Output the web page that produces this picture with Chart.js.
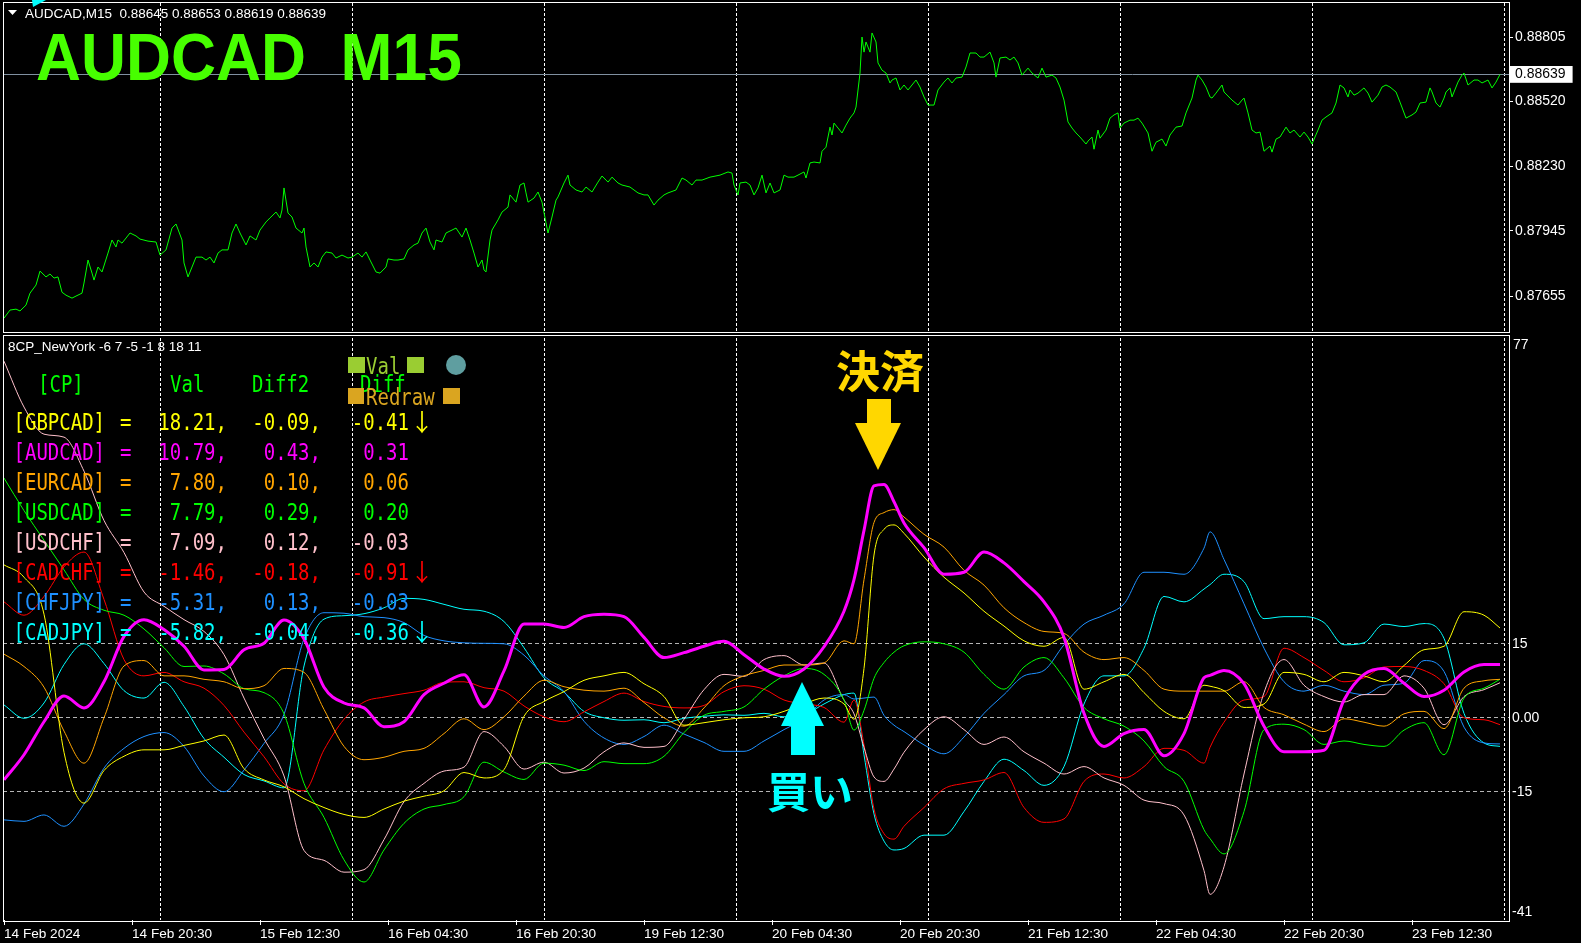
<!DOCTYPE html>
<html><head><meta charset="utf-8">
<script src="https://cdn.jsdelivr.net/npm/chart.js@4.4.1/dist/chart.umd.min.js"></script>
<style>
html,body{margin:0;padding:0;background:#000;width:1581px;height:943px;overflow:hidden;}
#wrap{position:relative;width:1581px;height:943px;background:#000;}
canvas{position:absolute;left:0;}
.t{position:absolute;white-space:pre;line-height:16px;}
.sm{font-family:'Liberation Sans',Arial,sans-serif;font-size:13.5px;color:#fff;}
.mono{position:absolute;white-space:pre;font-family:'DejaVu Sans Mono',monospace;font-size:19px;height:30px;line-height:30px;transform:scaleY(1.22);transform-origin:50% 50%;}
.arr{position:absolute;white-space:pre;font-family:'Noto Sans CJK JP',sans-serif;font-size:24px;height:30px;line-height:30px;width:24px;text-align:center;}
.box{position:absolute;border:1px solid #fff;box-sizing:border-box;pointer-events:none;}
</style></head><body>
<div id="wrap">
<canvas id="topc" width="1581" height="333" style="top:0"></canvas>
<canvas id="botc" width="1581" height="610" style="top:333px"></canvas>
<div class="box" style="left:3px;top:2px;width:1507px;height:331px"></div>
<div class="box" style="left:3px;top:335px;width:1507px;height:587px"></div>
<div id="overlay"></div>
</div>
<script>
// ---------- price panel data (bar index on M15, price) ----------
const priceBars = [0,3,6,8,11,13,16,18,21,23,
25,27,29,31,34,36,39,40,42,44,
45,47,49,52,54,56,57,59,63,66,
68,72,76,78,81,84,86,89,90,92,
94,96,99,101,103,105,107,109,112,114,
116,118,121,123,126,128,131,133,136,138,
139,140,142,144,146,149,150,151,153,155,
157,159,161,164,166,169,172,174,177,179,
181,183,186,188,191,192,195,197,200,202,
205,207,209,211,213,215,216,219,221,224,
226,229,231,233,235,237,239,240,241,243,
244,247,249,252,253,256,258,260,261,262,
265,267,269,271,272,274,276,277,280,282,
283,286,289,291,294,297,299,302,304,307,
309,313,317,320,322,325,327,330,332,336,
339,341,344,346,349,353,358,362,364,365,
367,368,371,373,375,377,379,381,383,385,
388,390,392,395,397,400,401,403,405,408,
409,411,413,414,415,417,419,421,423,425,
426,428,429,430,431,433,434,436,437,439,
441,443,444,446,448,450,452,454,456,458,
460,462,465,467,470,472,474,476,479,481,
483,486,488,490,493,495,496,498,501,503,
505,507,509,512,514,517,519,521,524,526,
528,530,532,534,536,538,541,542,544,545,
547,548,551,553,555,557,558,560,563,565,
567,569,572,574,576,579,581,583,586,589,
591,594,596,597,599,601,603,604,606,609,
610,613,614,617,619,620,622,624,626,628,
630,633,634,636,638,641,643,645,648,650,
652,654,657,659,661,664,666,668,670,672,
673,675,677,680,682,684,687,689,691,693,
696,698,701,704,706,708,711,713,714,716,
718,720,721,723,724,727,729,730,732,735,
737,739,742,744,746,748];
const priceVals = [0.87557,0.87593,0.87597,0.87589,0.87615,0.87668,0.87704,0.87766,0.87740,0.87753,
0.87735,0.87740,0.87672,0.87659,0.87646,0.87655,0.87668,0.87713,0.87815,0.87757,
0.87726,0.87784,0.87762,0.87846,0.87904,0.87873,0.87904,0.87890,0.87935,0.87922,
0.87908,0.87899,0.87895,0.87837,0.87860,0.87957,0.87975,0.87904,0.87802,0.87740,
0.87784,0.87828,0.87828,0.87815,0.87828,0.87802,0.87846,0.87860,0.87860,0.87935,
0.87975,0.87935,0.87882,0.87922,0.87904,0.87948,0.87984,0.88002,0.88028,0.88002,
0.88037,0.88135,0.88024,0.88006,0.87957,0.87935,0.87957,0.87873,0.87784,0.87802,
0.87784,0.87828,0.87851,0.87846,0.87824,0.87837,0.87824,0.87828,0.87846,0.87828,
0.87851,0.87815,0.87762,0.87757,0.87784,0.87820,0.87815,0.87815,0.87820,0.87860,
0.87882,0.87890,0.87935,0.87957,0.87895,0.87860,0.87904,0.87895,0.87935,0.87948,
0.87957,0.87917,0.87957,0.87904,0.87846,0.87784,0.87815,0.87771,0.87762,0.87904,
0.87948,0.87993,0.88028,0.88050,0.88104,0.88072,0.88148,0.88157,0.88113,0.88072,
0.88090,0.88117,0.88072,0.87980,0.87935,0.88006,0.88081,0.88095,0.88157,0.88192,
0.88148,0.88126,0.88117,0.88139,0.88117,0.88161,0.88188,0.88161,0.88183,0.88157,
0.88148,0.88139,0.88113,0.88104,0.88104,0.88059,0.88081,0.88104,0.88113,0.88126,
0.88179,0.88170,0.88148,0.88170,0.88170,0.88183,0.88192,0.88206,0.88201,0.88148,
0.88104,0.88157,0.88161,0.88148,0.88104,0.88135,0.88192,0.88113,0.88157,0.88113,
0.88126,0.88192,0.88183,0.88183,0.88192,0.88206,0.88179,0.88246,0.88250,0.88246,
0.88298,0.88316,0.88405,0.88370,0.88423,0.88401,0.88379,0.88414,0.88445,0.88468,
0.88494,0.88645,0.88805,0.88738,0.88783,0.88738,0.88823,0.88783,0.88690,0.88658,
0.88645,0.88601,0.88614,0.88623,0.88570,0.88592,0.88570,0.88592,0.88614,0.88583,
0.88539,0.88503,0.88503,0.88570,0.88605,0.88623,0.88601,0.88623,0.88627,0.88672,
0.88734,0.88734,0.88716,0.88716,0.88738,0.88690,0.88627,0.88712,0.88716,0.88703,
0.88716,0.88690,0.88636,0.88667,0.88645,0.88623,0.88667,0.88627,0.88636,0.88623,
0.88583,0.88525,0.88428,0.88401,0.88379,0.88361,0.88330,0.88343,0.88361,0.88307,
0.88392,0.88356,0.88392,0.88445,0.88459,0.88468,0.88401,0.88423,0.88436,0.88436,
0.88445,0.88423,0.88379,0.88298,0.88338,0.88352,0.88321,0.88370,0.88405,0.88410,
0.88468,0.88534,0.88614,0.88636,0.88614,0.88583,0.88539,0.88534,0.88556,0.88592,
0.88561,0.88534,0.88525,0.88503,0.88525,0.88534,0.88468,0.88392,0.88379,0.88383,
0.88298,0.88321,0.88294,0.88352,0.88361,0.88405,0.88379,0.88392,0.88361,0.88383,
0.88361,0.88330,0.88392,0.88436,0.88450,0.88468,0.88512,0.88592,0.88579,0.88539,
0.88570,0.88547,0.88556,0.88579,0.88556,0.88516,0.88547,0.88583,0.88592,0.88583,
0.88561,0.88516,0.88445,0.88459,0.88472,0.88512,0.88516,0.88579,0.88561,0.88512,
0.88494,0.88534,0.88561,0.88579,0.88539,0.88605,0.88636,0.88645,0.88592,0.88614,
0.88614,0.88601,0.88614,0.88579,0.88605,0.88639];
const priceTicks = [0.88805, 0.88639, 0.88520, 0.88230, 0.87945, 0.87655];
const lastPrice = 0.88639;

// ---------- time axis ----------
const dayGridBars = [78.35, 174.3, 270.25, 366.2, 462.15, 558.1, 654.05, 750];
const dateTickBars = [0,64,128,192,256,320,384,448,512,576,640,704];
const dateLabels = ['14 Feb 2024','14 Feb 20:30','15 Feb 12:30','16 Feb 04:30','16 Feb 20:30','19 Feb 12:30','20 Feb 04:30','20 Feb 20:30','21 Feb 12:30','22 Feb 04:30','22 Feb 20:30','23 Feb 12:30'];

// ---------- indicator panel data ----------
const indTicks = [77, 15, 0, -15, -41];
const indBars = [0,10,20,30,40,50,60,70,80,90,100,110,120,130,140,150,160,170,180,190,200,210,220,230,240,250,260,270,280,290,300,310,320,330,340,350,360,370,380,390,400,410,420,425,430,435,440,445,450,460,470,480,490,500,510,520,530,540,550,560,570,580,590,600,603,610,620,630,640,650,660,670,680,690,700,710,720,730,740,748];
const audcad = [-12.6,-7.5,-0.8,4.4,2.0,7.3,16.5,19.9,17.9,14.5,
 9.7,9.8,13.8,15.1,19.8,16.0,6.2,3.0,2.0,-1.8,
 -0.8,4.7,7.0,8.7,2.2,9.5,19.0,19.0,18.3,20.5,
 21.0,20.5,16.3,12.2,13.2,14.5,15.5,12.8,9.9,8.4,
 9.9,14.4,21.6,
 28.0,38.0,47.0,47.3,43.8,
 39.5,34.5,29.1,29.5,33.6,31.4,27.6,23.5,16.3,0.9,-5.8,-3.2,-2.4,-7.7,-3.2,8.1,
 8.6,
 9.6,6.9,-1.7,-6.9,-6.9,-6.6,3.6,8.8,10.0,7.0,4.3,5.6,9.3,10.8,
 10.8];
const gbpcad = [31.0,28.5,21.0,-7.0,-17.3,-10.7,-7.8,-6.5,-6.5,-5.6,
 -4.7,-3.5,-10.3,-12.6,-14.0,-16.4,-18.2,-19.6,-20.2,-18.5,
 -16.9,-15.9,-14.8,-11.1,-12.2,-10.5,0.3,3.3,5.3,7.6,
 8.5,9.2,6.9,4.3,-1.5,-1.0,-0.4,0.0,0.2,1.3,
 2.8,4.0,2.8,
 -0.3,10.0,33.0,38.2,39.1,
 37.4,32.6,28.5,25.3,21.6,18.6,15.6,14.5,16.3,5.8,7.3,8.8,5.1,1.3,-0.2,6.6,
 6.4,
 5.5,2.1,2.8,9.2,8.8,7.3,9.2,8.5,7.3,10.6,13.8,14.5,21.5,20.8,
 18.2];
const eurcad = [12.9,10.4,6.2,-2.7,-9.2,0.0,10.5,11.6,8.5,8.5,
 7.8,7.3,5.9,6.5,10.0,9.2,1.7,-5.8,-8.5,-8.0,
 -6.8,-6.2,-3.2,-0.2,-2.4,0.2,4.4,7.6,6.3,5.6,
 5.4,6.0,3.1,0.0,-1.7,2.0,6.5,8.5,9.6,10.7,
 10.7,11.1,15.6,
 15.0,28.0,39.6,41.6,42.2,
 40.7,37.2,34.6,29.9,26.9,22.3,19.3,17.5,17.1,13.3,11.8,12.2,9.6,5.8,5.4,5.4,
 5.4,
 5.4,7.3,2.1,0.6,-1.3,-2.8,-0.2,-0.9,-1.7,0.8,1.3,-2.2,6.0,7.5,
 7.8];
const usdcad = [48.6,42.0,36.0,30.0,24.0,21.8,20.8,18.0,14.2,10.4,
 10.5,8.9,5.9,5.1,0.8,-13.3,-20.2,-28.8,-33.3,-26.8,
 -21.4,-18.5,-17.6,-16.0,-9.0,-11.0,-12.5,-9.2,-9.6,-10.7,
 -8.9,-9.3,-9.3,-7.8,-3.0,0.5,1.3,2.2,5.8,8.5,
 10.0,8.8,3.6,
 -2.5,1.5,8.0,11.2,13.3,
 14.6,15.4,15.0,13.3,8.8,5.8,10.3,12.2,8.1,2.1,-0.2,-1.7,-4.7,-9.9,-12.9,-22.7,
 -24.5,
 -27.6,-19.0,-2.4,-1.3,-2.4,-5.4,-4.7,-5.4,-5.8,-2.5,-1.0,-7.5,4.0,6.0,
 7.8];
const usdchf = [72.3,63.0,57.5,56.9,50.0,40.0,33.5,25.5,22.6,19.9,
 17.5,12.8,4.0,-4.2,-11.8,-26.9,-28.9,-31.3,-30.8,-24.7,
 -17.0,-13.3,-10.8,-10.0,-2.8,-5.8,-10.4,-9.0,-11.2,-10.2,
 -6.9,-5.1,-6.0,-5.8,-0.3,5.7,8.8,8.4,11.8,12.6,
 10.7,11.1,3.6,
 0.8,-6.0,-12.0,-12.9,-10.4,
 -7.0,-2.4,0.2,-2.4,-5.4,-3.9,-6.9,-9.2,-11.4,-9.9,-12.2,-13.7,-16.7,-17.4,-19.7,-31.0,
 -35.8,
 -30.2,-11.4,5.1,11.8,6.6,4.3,3.2,4.7,4.7,8.5,6.0,-1.4,4.3,5.7,
 7.1];
const cadchf = [23.5,20.8,24.6,30.6,33.6,24.0,11.8,8.5,9.2,7.3,
 6.0,2.5,-2.9,-7.9,-13.4,-14.8,-6.5,-0.3,3.2,4.2,
 4.9,5.6,7.2,7.3,6.1,5.4,2.4,0.2,-0.8,1.2,
 3.3,5.0,3.3,2.3,2.0,2.5,5.3,6.5,5.8,3.6,
 2.8,2.1,-0.9,
 3.6,-5.5,-18.5,-23.5,-24.6,
 -22.0,-18.2,-14.4,-13.3,-12.6,-11.1,-18.2,-21.2,-20.5,-12.9,-11.4,-12.2,-9.9,-6.2,-6.6,-9.2,
 -6.0,
 -0.9,3.6,4.3,14.1,12.2,9.6,7.3,8.1,10.3,10.4,9.6,6.9,0.0,-0.4,
 -1.4];
const chfjpy = [-20.7,-21.0,-19.7,-22.0,-17.5,-10.2,-6.2,-3.8,-3.0,-5.8,
 -11.8,-15.0,-10.6,-5.2,0.7,16.0,21.3,21.2,20.5,20.3,
 19.3,16.7,15.6,15.2,15.1,15.0,12.7,8.5,5.3,-0.7,
 -4.1,-5.4,-3.8,-1.5,-3.3,-5.0,-6.8,-6.8,-4.7,-2.4,
 -0.2,3.6,4.7,
 3.8,4.0,4.2,0.5,-1.5,
 -2.8,-5.5,-7.3,-3.9,0.9,4.7,8.5,9.6,14.8,19.0,20.8,23.1,29.5,29.5,29.1,34.4,
 37.7,
 32.1,23.1,14.1,7.3,5.4,6.6,5.4,4.7,6.6,7.0,11.6,9.4,-1.9,-5.1,
 -5.3];
const cadjpy = [2.6,-0.1,3.0,10.8,15.0,11.0,5.5,4.0,7.2,2.3,
 -4.2,-8.0,-11.5,-12.8,-14.2,10.5,20.0,20.7,21.1,22.3,
 24.2,24.0,23.0,22.0,21.6,19.5,14.2,8.1,5.2,1.3,
 0.0,-0.5,-0.4,-1.0,-0.1,0.3,0.6,0.5,0.9,0.2,
 0.6,2.8,4.7,
 5.0,-7.5,-19.5,-25.0,-26.8,
 -26.5,-23.8,-23.8,-19.0,-12.9,-8.4,-10.7,-13.7,-9.9,2.8,8.5,8.5,14.1,24.6,23.5,26.1,
 27.0,
 29.1,27.6,20.1,20.5,20.5,19.3,14.8,15.2,19.0,18.5,19.1,16.1,0.9,-5.1,
 -5.8];

// ---------- text table ----------
const pairNames = ['[GBPCAD]','[AUDCAD]','[EURCAD]','[USDCAD]','[USDCHF]','[CADCHF]','[CHFJPY]','[CADJPY]'];
const valText   = ['18.21,','10.79,','7.80,','7.79,','7.09,','-1.46,','-5.31,','-5.82,'];
const diff2Text = ['-0.09,','0.43,','0.10,','0.29,','0.12,','-0.18,','0.13,','-0.04,'];
const diffText  = ['-0.41','0.31','0.06','0.20','-0.03','-0.91','-0.03','-0.36'];
const arrowText = ['↓','','','','','↓','','↓'];
</script>
<script>
const pairColors = ['#ffff00','#ff00ff','#ffa500','#00ff00','#ffc0cb','#ff0000','#1e90ff','#00ffff'];
Chart.defaults.font.family = "'Liberation Sans', Arial, sans-serif";
Chart.defaults.font.size = 14;
Chart.defaults.color = '#ffffff';

function zeroPad(s){ s.paddingTop=0; s.paddingBottom=0; s.paddingLeft=0; s.paddingRight=0; }

const isLast = c => c && c.tick && Math.abs(c.tick.value - lastPrice) < 1e-7;

new Chart(document.getElementById('topc'), {
  type: 'line',
  data: { datasets: [{
    data: priceBars.map((b,i)=>({x:b, y:priceVals[i]})),
    borderColor:'#00ff00', borderWidth:1, pointRadius:0, tension:0
  }]},
  options: {
    responsive:false, animation:false, devicePixelRatio:1,
    layout:{padding:{left:3,top:3,right:0,bottom:2}, autoPadding:false},
    plugins:{legend:{display:false}, tooltip:{enabled:false}},
    scales:{
      x:{type:'linear', min:-0.5, max:752.5, position:'bottom',
         afterBuildTicks: s => { s.ticks = dayGridBars.map(v=>({value:v})); },
         ticks:{display:false},
         grid:{color:'#ffffff', lineWidth:1, drawTicks:false},
         border:{display:false, dash:[3,2]},
         afterFit: s => { s.height = 0; zeroPad(s); }},
      y:{type:'linear', position:'right', min:0.875, max:0.88956,
         afterBuildTicks: s => { s.ticks = priceTicks.map(v=>({value:v})); },
         ticks:{
           color: c => isLast(c) ? '#000000' : '#ffffff',
           padding:2, autoSkip:false,
           callback: v => Number(v).toFixed(5),
           showLabelBackdrop: c => isLast(c),
           backdropColor:'#ffffff',
           backdropPadding:{top:0,bottom:0,left:5,right:7}
         },
         grid:{drawOnChartArea:true, color: c => isLast(c) ? '#8090a0' : 'rgba(0,0,0,0)', tickColor:'#ffffff', tickLength:4, drawTicks:true},
         border:{display:false},
         afterFit: s => { s.width = 72; zeroPad(s); }}
    }
  }
});

const seriesVals = [gbpcad, audcad, eurcad, usdcad, usdchf, cadchf, chfjpy, cadjpy];
const drawOrder = [1,0,2,3,4,5,6,7];
const botDatasets = drawOrder.map(k => ({
  label: pairNames[k],
  data: indBars.map((b,i)=>({x:b, y:seriesVals[k][i]})),
  borderColor: pairColors[k], borderWidth: k===1 ? 3 : 1,
  pointRadius:0, cubicInterpolationMode:'monotone'
}));

const edgeLabels = {
  id:'edgeLabels',
  afterDraw(chart){
    const y = chart.scales.y, ctx = chart.ctx;
    ctx.save(); ctx.fillStyle='#ffffff'; ctx.font="14px 'Liberation Sans', Arial, sans-serif";
    ctx.textAlign='left'; ctx.textBaseline='middle';
    ctx.fillText(String(indTicks[0]), y.left+4, y.getPixelForValue(indTicks[0])+7);
    ctx.fillText(String(indTicks[4]), y.left+3, y.getPixelForValue(indTicks[4])-8);
    ctx.restore();
  }
};

new Chart(document.getElementById('botc'), {
  type: 'line',
  data: { datasets: botDatasets },
  plugins: [edgeLabels],
  options: {
    responsive:false, animation:false, devicePixelRatio:1,
    layout:{padding:{left:3,top:5,right:0,bottom:0}, autoPadding:false},
    plugins:{legend:{display:false}, tooltip:{enabled:false}},
    scales:{
      x:{type:'linear', min:-0.5, max:752.5, position:'bottom',
         afterBuildTicks: s => { s.ticks = dateTickBars.map(v=>({value:v})); },
         ticks:{align:'start', padding:1, autoSkip:false, maxRotation:0, minRotation:0, color:'#ffffff',
                font:{size:13.6},
                callback:(v,i)=>dateLabels[i]},
         grid:{drawOnChartArea:false, drawTicks:true, tickLength:5, tickColor:'#ffffff', color:'#ffffff'},
         border:{display:false},
         afterFit: s => { s.height = 23; zeroPad(s); }},
      xg:{type:'linear', min:-0.5, max:752.5, position:'bottom',
         afterBuildTicks: s => { s.ticks = dayGridBars.map(v=>({value:v})); },
         ticks:{display:false},
         grid:{color:'#ffffff', lineWidth:1, drawTicks:false},
         border:{display:false, dash:[3,2]},
         afterFit: s => { s.height = 0; zeroPad(s); }},
      y:{type:'linear', position:'right', min:-41, max:77,
         afterBuildTicks: s => { s.ticks = indTicks.map(v=>({value:v})); },
         ticks:{padding:3, autoSkip:false, color:'#ffffff',
                callback: v => (v===indTicks[0]||v===indTicks[4]) ? '' : (v===0 ? '0.00' : String(v))},
         grid:{drawTicks:false, color: c => (c && c.tick && c.tick.value!==indTicks[0] && c.tick.value!==indTicks[4]) ? '#b4b4b4' : 'rgba(0,0,0,0)'},
         border:{display:false, dash:[4,3]},
         afterFit: s => { s.width = 72; zeroPad(s); }}
    }
  }
});

// ---------- overlay texts & shapes ----------
const ov = document.getElementById('overlay');
function add(html){ ov.insertAdjacentHTML('beforeend', html); }
add(`<div class="t sm" style="left:25px;top:6px">AUDCAD,M15  0.88645 0.88653 0.88619 0.88639</div>`);
add(`<div class="t" style="left:36px;top:23px;font:bold 67px/67px 'Liberation Sans',Arial,sans-serif;line-height:67px;color:#47ff00;transform:scaleX(0.93);transform-origin:0 0">AUDCAD  M15</div>`);
add(`<div class="t sm" style="left:8px;top:339px">8CP_NewYork -6 7 -5 -1 8 18 11</div>`);
const hdrY = 383;
add(`<div class="mono" style="left:360px;top:${hdrY-15}px;color:#00ff00;z-index:1">Diff</div>`);
add(`<svg width="1581" height="943" style="position:absolute;left:0;top:0;pointer-events:none;z-index:2">
 <polygon points="8,10 17,10 12.5,15" fill="#ffffff"/>
 <polygon points="32,0 46,0 33,7" fill="#00ffff"/>
 <rect x="348" y="357" width="17" height="16" fill="#9acd32"/>
 <rect x="407" y="357" width="17" height="16" fill="#9acd32"/>
 <circle cx="456" cy="365" r="10" fill="#5f9ea0"/>
 <rect x="348" y="388" width="16" height="16" fill="#daa520"/>
 <rect x="443" y="388" width="17" height="16" fill="#daa520"/>
 <rect x="867" y="399" width="24" height="25" fill="#ffd700"/>
 <polygon points="855,423 901,423 878,470" fill="#ffd700"/>
 <polygon points="781,726 824,726 802,682" fill="#00ffff"/>
 <rect x="791" y="725" width="24" height="30" fill="#00ffff"/>
</svg>`);
add(`<div class="mono" style="left:38px;top:${hdrY-15}px;color:#00ff00;z-index:3">[CP]</div>`);
add(`<div class="mono" style="left:170px;top:${hdrY-15}px;color:#00ff00;z-index:3">Val</div>`);
add(`<div class="mono" style="left:252px;top:${hdrY-15}px;color:#00ff00;z-index:3">Diff2</div>`);
add(`<div class="mono" style="left:366px;top:${365-15}px;color:#9acd32;z-index:3">Val</div>`);
add(`<div class="mono" style="left:366px;top:${396-15}px;color:#daa520;z-index:3">Redraw</div>`);
for (let i=0;i<pairNames.length;i++){
  const cy = 421 + 30*i, top = cy-15, col = pairColors[i];
  add(`<div class="mono" style="left:13.5px;top:${top}px;color:${col};z-index:3">${pairNames[i]}</div>`);
  add(`<div class="mono" style="left:120px;top:${top}px;color:${col};z-index:3">=</div>`);
  add(`<div class="mono" style="left:27px;width:200px;text-align:right;top:${top}px;color:${col};z-index:3">${valText[i]}</div>`);
  add(`<div class="mono" style="left:121px;width:200px;text-align:right;top:${top}px;color:${col};z-index:3">${diff2Text[i]}</div>`);
  add(`<div class="mono" style="left:209px;width:200px;text-align:right;top:${top}px;color:${col};z-index:3">${diffText[i]}</div>`);
  if (arrowText[i]) add(`<div class="arr" style="left:410px;top:${top}px;color:${col};z-index:3">${arrowText[i]}</div>`);
}
add(`<div class="t" style="left:836px;top:347px;font:bold 44px/44px 'Noto Sans CJK JP',sans-serif;line-height:44px;color:#ffd700;z-index:3">決済</div>`);
add(`<div class="t" style="left:767px;top:768px;font:bold 43px/43px 'Noto Sans CJK JP',sans-serif;line-height:43px;color:#00ffff;z-index:3">買い</div>`);
</script>
</body></html>
